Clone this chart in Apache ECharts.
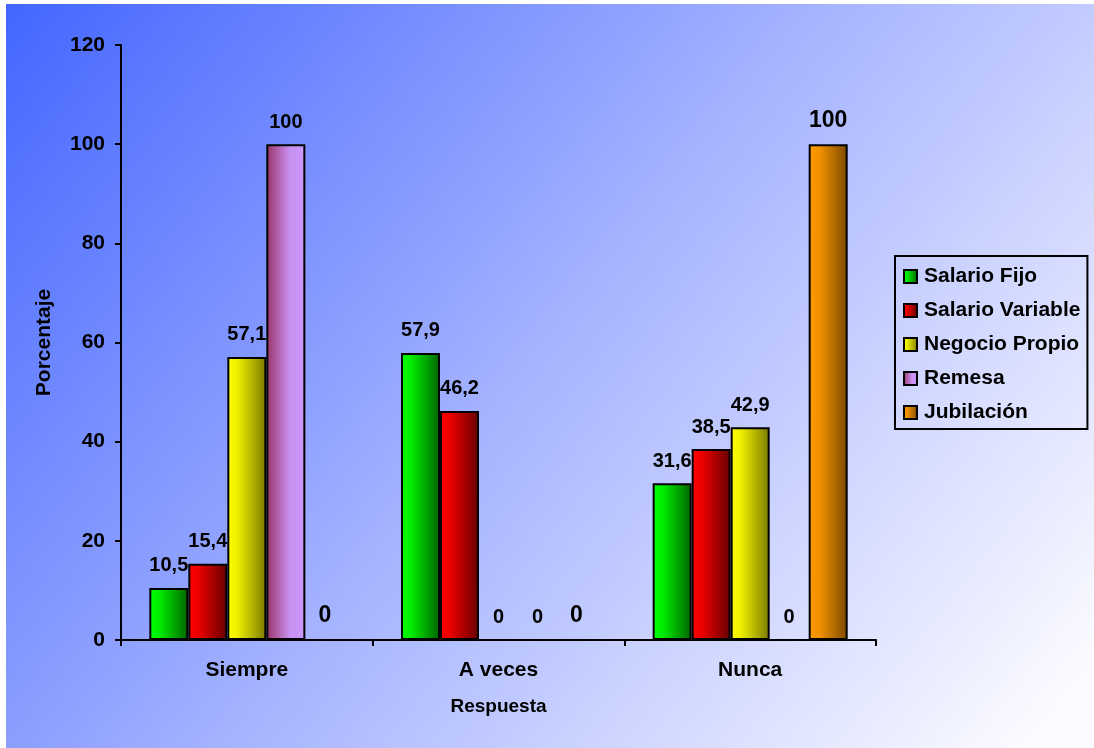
<!DOCTYPE html>
<html>
<head>
<meta charset="utf-8">
<script src="https://cdn.jsdelivr.net/npm/echarts@6/dist/echarts.min.js"></script>
<style>
html,body{margin:0;padding:0;background:#fff;}
#chart{width:1094px;height:748px;}
</style>
</head>
<body>
<div id="chart"></div>
<script>
const categories = ['Siempre', 'A veces', 'Nunca'];
const seriesNames = ['Salario Fijo', 'Salario Variable', 'Negocio Propio', 'Remesa', 'Jubilación'];
const salarioFijo = [10.5, 57.9, 31.6];
const salarioVariable = [15.4, 46.2, 38.5];
const negocioPropio = [57.1, 0, 42.9];
const remesa = [100, 0, 0];
const jubilacion = [0, 0, 100];
const yTicks = [0, 20, 40, 60, 80, 100, 120];

const seriesData = [salarioFijo, salarioVariable, negocioPropio, remesa, jubilacion];
const gradients = [
  [[0, '#00ff00'], [0.25, '#00ee00'], [1, '#006400']],
  [[0, '#ff0000'], [0.25, '#ee0000'], [1, '#640000']],
  [[0, '#ffff00'], [0.25, '#f0f000'], [1, '#7a7a00']],
  [[0, '#993366'], [0.6, '#c890f0'], [1, '#cc99ff']],
  [[0, '#ff9900'], [0.3, '#f09000'], [1, '#7a4800']]
];
const labelSizes = [20, 20, 20, 20, 23];

const chart = echarts.init(document.getElementById('chart'), null, {renderer: 'canvas'});
const font = 'Liberation Sans, Arial, sans-serif';

const series = seriesData.map((d, i) => ({
  name: seriesNames[i],
  type: 'bar',
  data: d,
  barGap: '0%',
  barCategoryGap: '22.5%',
  itemStyle: {
    color: {type: 'linear', x: 0, y: 0, x2: 1, y2: 0,
      colorStops: gradients[i].map(s => ({offset: s[0], color: s[1]}))},
    borderColor: '#000',
    borderWidth: 2
  },
  label: {
    show: true,
    position: 'top',
    distance: 12,
    fontFamily: font,
    fontWeight: 'bold',
    fontSize: labelSizes[i],
    color: '#000',
    formatter: p => String(p.value).replace('.', ',')
  },
  emphasis: {disabled: true}
}));

chart.setOption({
  animation: false,
  backgroundColor: '#fff',
  graphic: [{
    type: 'rect',
    z: -100,
    silent: true,
    shape: {x: 6, y: 4, width: 1088, height: 744},
    style: {
      fill: {type: 'linear', x: 0, y: 0, x2: 0.9, y2: 1.05,
        colorStops: [
          {offset: 0, color: '#4466ff'},
          {offset: 0.5, color: '#a4b2ff'},
          {offset: 1, color: '#fafaff'}
        ]}
    }
  }],
  grid: {left: 121, right: 218, top: 45, bottom: 108, containLabel: false},
  legend: {
    orient: 'vertical',
    left: 895,
    top: 256,
    padding: [10, 7, 6, 8],
    itemGap: 13,
    itemWidth: 13,
    itemHeight: 13,
    icon: 'rect',
    borderColor: '#000',
    borderWidth: 2,
    itemStyle: {borderColor: '#000', borderWidth: 2},
    textStyle: {fontFamily: font, fontWeight: 'bold', fontSize: 21, color: '#000', lineHeight: 21, padding: [0, 0, 0, 2]},
    data: seriesNames
  },
  xAxis: {
    type: 'category',
    data: categories,
    name: 'Respuesta',
    nameLocation: 'middle',
    nameGap: 57,
    nameTextStyle: {fontFamily: font, fontWeight: 'bold', fontSize: 19, color: '#000'},
    axisLine: {lineStyle: {color: '#000', width: 2}},
    axisTick: {show: true, length: 6, lineStyle: {color: '#000', width: 2}},
    axisLabel: {fontFamily: font, fontWeight: 'bold', fontSize: 21, color: '#000', margin: 20},
    splitLine: {show: false}
  },
  yAxis: {
    type: 'value',
    min: 0,
    max: 120,
    interval: 20,
    name: 'Porcentaje',
    nameLocation: 'middle',
    nameRotate: 90,
    nameGap: 66,
    nameTextStyle: {fontFamily: font, fontWeight: 'bold', fontSize: 21, color: '#000'},
    axisLine: {show: true, lineStyle: {color: '#000', width: 2}},
    axisTick: {show: true, length: 6, lineStyle: {color: '#000', width: 2}},
    axisLabel: {fontFamily: font, fontWeight: 'bold', fontSize: 21, color: '#000', margin: 16,
      formatter: v => yTicks.includes(v) ? String(v) : ''},
    splitLine: {show: false}
  },
  series: series
});
</script>
</body>
</html>
